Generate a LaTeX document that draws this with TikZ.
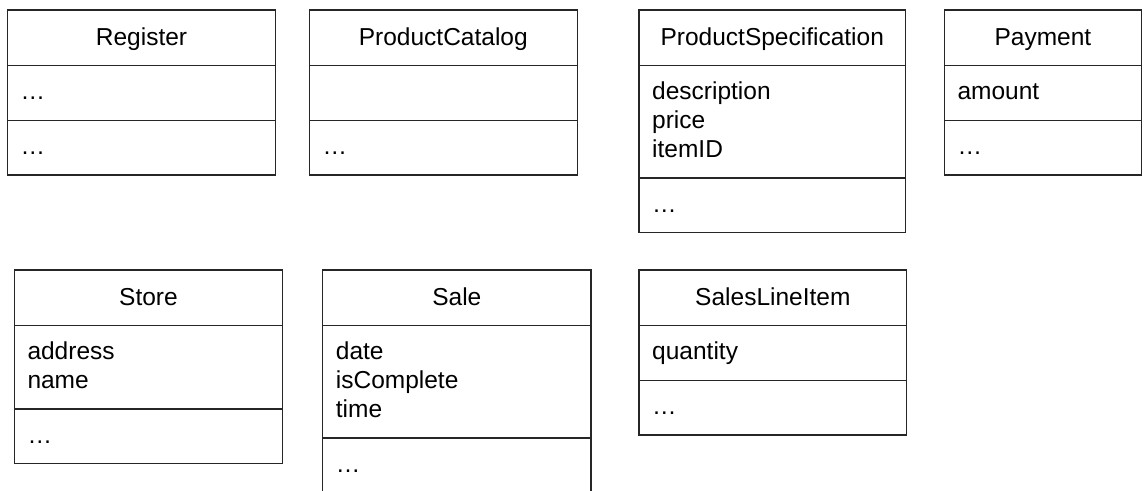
\documentclass[tikz,border=0pt]{standalone}
\usepackage{fontspec}
\setmainfont{Liberation Sans}
\tikzset{
  classbox/.style={draw=black!85, line width=1.1pt, anchor=north west, inner sep=0pt, outer sep=0pt},
  divider/.style={draw=black!85, line width=1.1pt},
  titletext/.style={anchor=base, inner sep=0pt, font=\fontsize{24.5}{29}\selectfont},
  attrtext/.style={anchor=base west, inner sep=0pt, font=\fontsize{24.5}{29}\selectfont},
}
% #1 name, #2 left, #3 top, #4 right, #5 title, #6 attribute compartment height,
% #7 attribute lines (comma list), #8 operations text
\newcommand\umlclass[8]{%
  \pgfmathsetmacro\ua{#3+55.5}%
  \pgfmathsetmacro\ub{\ua+#6}%
  \pgfmathsetmacro\uc{\ub+54.5}%
  \pgfmathsetmacro\uw{#4-#2}%
  \pgfmathsetmacro\uh{\uc-#3}%
  \node[classbox, minimum width=\uw pt, minimum height=\uh pt] (#1) at (#2,#3) {};
  \draw[divider] (#2,\ua) -- (#4,\ua);
  \draw[divider] (#2,\ub) -- (#4,\ub);
  \node[titletext] (#1-title) at ({(#2+#4)/2},#3+35) {#5};
  \foreach \t [count=\i from 0] in {#7} {
    \node[attrtext] (#1-a\i) at (#2+13,\ua+34+29*\i) {\t};
  }
  \node[attrtext] (#1-ops) at (#2+13,\ub+34) {#8};
}
\begin{document}
\begin{tikzpicture}[x=1pt,y=-1pt]
\useasboundingbox (0,0) rectangle (1146,490);
\umlclass{register}{7.5}{10}{275.5}{Register}{55}{\dots}{\dots}
\umlclass{catalog}{309.3}{10}{577.3}{ProductCatalog}{55}{{}}{\dots}
\umlclass{spec}{639}{10}{905.5}{ProductSpecification}{112.5}{description,price,itemID}{\dots}
\umlclass{payment}{944.3}{10}{1141.5}{Payment}{55}{amount}{\dots}
\umlclass{store}{14.3}{270}{282.7}{Store}{83.5}{address,name}{\dots}
\umlclass{sale}{322.7}{270}{591}{Sale}{112.5}{date,isComplete,time}{\dots}
\umlclass{sli}{639}{270}{906.7}{SalesLineItem}{55}{quantity}{\dots}
\end{tikzpicture}
\end{document}
